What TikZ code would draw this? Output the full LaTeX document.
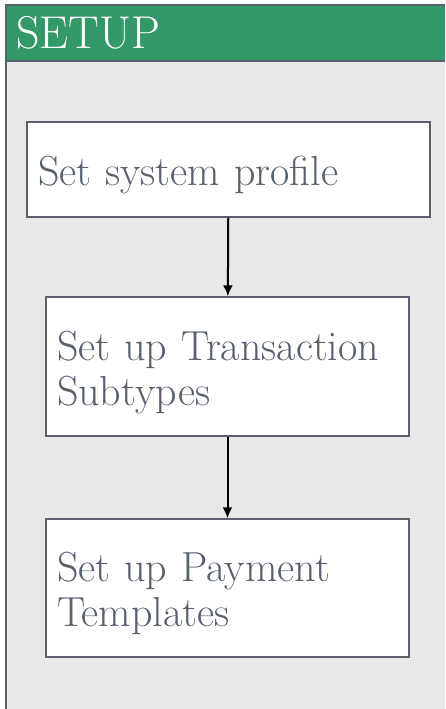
\documentclass[tikz,border=0pt]{standalone}
\usepackage{tikz}
\usetikzlibrary{positioning,arrows.meta}
\definecolor{hdrgreen}{RGB}{52,153,104}
\definecolor{panelgrey}{RGB}{232,232,232}
\definecolor{edgegrey}{RGB}{92,96,110}
\definecolor{txtgrey}{RGB}{88,96,112}
\begin{document}
\begin{tikzpicture}[x=1pt,y=-1pt,
        stepbox/.style={draw=edgegrey, line width=1.4pt, fill=white, align=left, inner sep=0pt,
        text=txtgrey, text height=41pt, font=\fontsize{42}{45}\selectfont},
        flow/.style={-{Latex[length=11pt,width=10pt]}, line width=2pt}]
        \useasboundingbox (0,0) rectangle (445,709);
        \fill[panelgrey] (6,5) rectangle (445,709);
        \fill[hdrgreen] (6,5) rectangle (445,61);
        \draw[edgegrey, line width=2pt] (6,709) -- (6,5) -- (445,5);
        \draw[edgegrey, line width=2pt] (6,61) -- (445,61);
        \node[anchor=west, text=white, font=\fontsize{46}{50}\selectfont, inner sep=0pt] (title) at (16,33) {SETUP};
        \node[stepbox, minimum width=403pt, minimum height=95pt, text width=381pt] (profile) at (228.5,169.5) {Set system profile};
        \node[stepbox, minimum width=363pt, minimum height=139pt, text width=341pt] (subtypes) at (227.5,366.5) {Set up Transaction\\Subtypes};
        \node[stepbox, minimum width=363pt, minimum height=138pt, text width=341pt] (templates) at (227.5,588) {Set up Payment\\Templates};
        \draw[flow] (profile) -- (subtypes);
        \draw[flow] (subtypes) -- (templates);
    \end{tikzpicture}
\end{document}
